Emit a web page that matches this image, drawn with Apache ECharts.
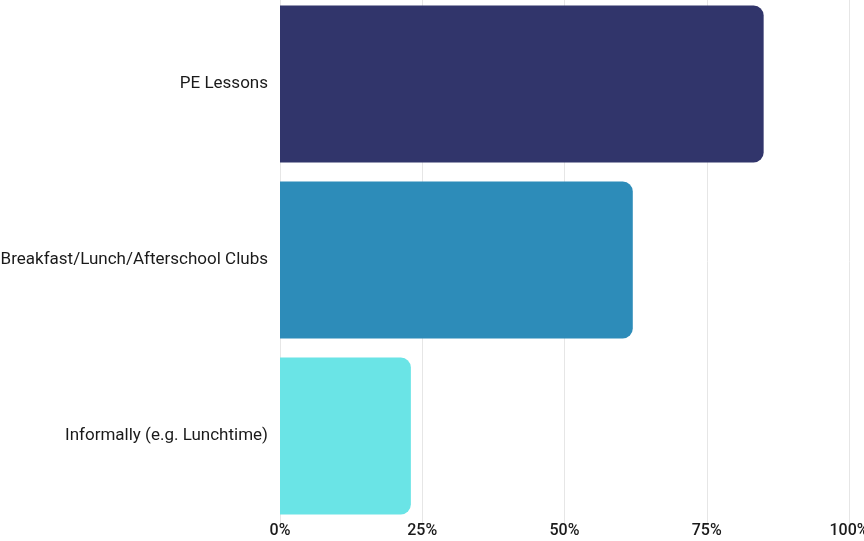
<!DOCTYPE html>
<html>
<head>
<meta charset="utf-8">
<script src="https://cdn.jsdelivr.net/npm/echarts@6/dist/echarts.min.js"></script>
<style>
  html, body { margin: 0; padding: 0; background: #fff; }
  #chart { width: 864px; height: 541px; }
</style>
</head>
<body>
<div id="chart"></div>
<script>
const categories = ["PE Lessons", "Breakfast/Lunch/Afterschool Clubs", "Informally (e.g. Lunchtime)"];
const values = [85, 62, 23];
const barColors = ["#31356b", "#2d8cb9", "#6ae4e6"];
const tickLabels = ["0%", "25%", "50%", "75%", "100%"];

const chart = echarts.init(document.getElementById("chart"));
const option = {
  animation: false,
  grid: {
    top: -4,
    bottom: 17,
    left: 280,
    right: 15,
    containLabel: false,
    outerBoundsMode: "none", // v6 would otherwise shrink the grid to fit labels
  },
  xAxis: {
    type: "value",
    min: 0,
    max: 100,
    interval: 25,
    axisLine: { show: false },
    axisTick: { show: false },
    splitLine: { show: true, lineStyle: { color: "#e6e6e6", width: 1 } },
    axisLabel: {
      margin: -1,
      color: "#1a1a1a",
      fontFamily: "Roboto",
      fontWeight: 500,
      fontSize: 16,
      formatter: (v) => tickLabels[v / 25],
    },
  },
  yAxis: {
    type: "category",
    data: categories,
    inverse: true,
    axisLine: { show: false },
    axisTick: { show: false },
    axisLabel: {
      margin: 12,
      color: "#1a1a1a",
      fontFamily: "Roboto",
      fontSize: 17,
      padding: [4, 0, 0, 0],
    },
  },
  series: [
    {
      type: "bar",
      data: values.map((v, i) => ({ value: v, itemStyle: { color: barColors[i] } })),
      barWidth: 157,
      itemStyle: { borderRadius: [0, 10, 10, 0] },
    },
  ],
};
chart.setOption(option);
</script>
</body>
</html>
